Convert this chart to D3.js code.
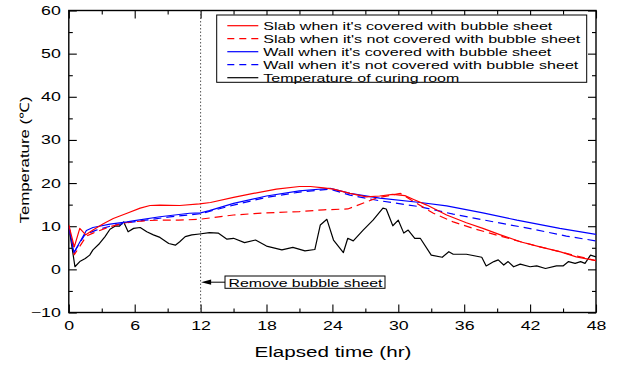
<!DOCTYPE html>
<html>
<head>
<meta charset="utf-8">
<script src="https://cdn.jsdelivr.net/npm/d3@7"></script>
<style>
  html, body { margin: 0; padding: 0; background: #fff; }
  svg { display: block; }
  text { font-family: "Liberation Sans", Arial, sans-serif; fill: #000; }
</style>
</head>
<body>
<svg id="chart" width="620" height="368"></svg>
<script>
// Axis ticks
const xTicks = [0, 6, 12, 18, 24, 30, 36, 42, 48];
const xMinorTicks = [3, 9, 15, 21, 27, 33, 39, 45];
const yTicks = [-10, 0, 10, 20, 30, 40, 50, 60];
const yMinorTicks = [-5, 5, 15, 25, 35, 45, 55];

// Series: [elapsed hours, temperature °C]
const slabCovered = [
  [0, 10.3], [0.5, 5.2], [1.0, 9.5], [1.4, 8.4], [1.55, 8.0], [2.2, 9.1], [3.1, 10.5],
  [4.05, 11.8], [5.3, 13.0], [6.5, 14.2], [7.4, 14.8], [8.3, 14.9], [10.1, 14.8],
  [11.9, 15.2], [12.9, 15.5], [15.0, 16.7], [16.8, 17.6], [18.9, 18.6], [21.0, 19.2],
  [22.0, 19.2], [23.2, 18.9], [24.1, 18.6], [25.6, 17.6], [27.1, 16.8], [28.3, 17.0],
  [29.5, 17.4], [30.6, 17.1], [31.4, 16.2], [32.6, 14.9], [34.4, 12.6], [36.2, 10.8],
  [37.7, 9.5], [39.3, 8.0], [41.1, 6.4], [42.9, 5.2], [44.7, 4.1], [46.2, 2.9], [48, 2.0]
];
const slabUncovered = [
  [0, 10.0], [0.5, 3.4], [1.6, 7.7], [2.2, 8.4], [3.75, 9.9], [5.3, 10.9], [7.1, 11.3],
  [8.3, 11.4], [10.0, 11.4], [11.9, 11.6], [15.0, 12.6], [18.0, 13.1], [21.0, 13.4],
  [23.2, 13.8], [25.4, 14.0], [28.0, 16.5], [30.2, 17.6], [31.4, 15.7], [33.2, 13.0],
  [35.0, 11.0], [36.8, 9.5], [39.3, 7.7], [42.3, 5.6], [45.3, 3.7], [48, 2.0]
];
const wallCovered = [
  [0, 9.9], [0.47, 3.9], [1.2, 7.2], [1.6, 9.0], [2.2, 9.7], [3.75, 10.5], [5.3, 11.0],
  [6.0, 11.3], [8.3, 12.2], [11.0, 13.0], [12.0, 13.1], [12.8, 13.6], [15.0, 15.3],
  [18.0, 17.0], [21.0, 18.2], [23.8, 18.8], [25.6, 17.6], [28.3, 16.5], [32.0, 15.5],
  [34.4, 14.7], [37.7, 13.1], [40.8, 11.4], [44.7, 9.5], [48, 8.1]
];
const wallUncovered = [
  [0, 9.9], [0.5, 4.0], [1.45, 8.0], [2.5, 9.1], [3.75, 10.0], [5.3, 10.8], [7.0, 11.4],
  [9.0, 12.1], [12.0, 12.9], [15.0, 14.9], [18.0, 16.7], [21.0, 17.9], [23.8, 18.6],
  [25.6, 17.2], [28.3, 15.9], [32.0, 14.5], [35.0, 12.8], [38.7, 11.0], [42.3, 9.3],
  [45.3, 7.7], [48, 6.6]
];
const curingRoom = [
  [0, 10.0], [0.56, 0.6], [1.0, 1.8], [1.5, 2.5], [1.9, 3.3], [2.2, 4.5], [2.8, 6.0],
  [3.3, 7.6], [3.75, 9.3], [4.2, 10.0], [4.6, 10.0], [5.0, 11.0], [5.4, 8.7], [5.9, 9.5],
  [6.5, 9.7], [7.1, 8.7], [7.7, 8.0], [8.3, 7.4], [9.1, 6.0], [9.7, 5.6], [10.1, 6.4],
  [10.6, 7.6], [11.2, 8.0], [11.9, 8.2], [12.8, 8.5], [13.6, 8.4], [14.4, 7.0],
  [15.0, 7.2], [16.0, 6.2], [17.0, 6.8], [18.0, 5.4], [19.4, 4.5], [20.4, 5.1],
  [21.5, 4.3], [22.4, 4.6], [22.9, 10.3], [23.5, 11.6], [24.1, 6.8], [25.0, 3.9],
  [25.4, 7.2], [25.9, 6.6], [26.8, 9.1], [27.7, 11.4], [28.6, 14.2], [28.9, 14.0],
  [29.5, 10.1], [30.0, 11.4], [30.5, 8.4], [30.9, 9.1], [31.5, 7.2], [32.0, 7.2],
  [33.0, 3.3], [34.0, 2.8], [34.6, 4.1], [35.0, 3.5], [36.2, 3.5], [37.6, 2.8],
  [38.0, 0.8], [38.7, 1.8], [39.1, 2.2], [39.6, 1.0], [40.0, 1.8], [40.5, 0.6],
  [41.1, 1.2], [42.0, 0.6], [42.6, 0.8], [43.4, 0.2], [44.4, 0.8], [45.0, 0.8],
  [45.5, 1.8], [46.1, 1.4], [46.6, 1.8], [47.0, 1.4], [47.5, 3.3], [48, 2.9]
];

const seriesNames = [
  "Slab when it's covered with bubble sheet",
  "Slab when it's not covered with bubble sheet",
  "Wall when it's covered with bubble sheet",
  "Wall when it's not covered with bubble sheet",
  "Temperature of curing room"
];
const seriesData = [slabCovered, slabUncovered, wallCovered, wallUncovered, curingRoom];
const seriesColors = ["#ff0000", "#ff0000", "#0000ff", "#0000ff", "#000000"];
const seriesDashes = [null, "8,5", null, "8,5", null];
const legendWidths = [289, 317, 288, 315, 196];

const removeHour = 12;
const removeLabel = "Remove bubble sheet";

// Plot geometry
const plot = { left: 68.8, right: 596, top: 10.5, bottom: 312.5 };
const textStretch = 1.42;

const svg = d3.select("#chart");
const x = d3.scaleLinear().domain([0, 48]).range([plot.left, plot.right]);
const y = d3.scaleLinear().domain([-10, 60]).range([plot.bottom, plot.top]);

function stretchText(sel) {
  sel.each(function () {
    const t = d3.select(this);
    const xv = +t.attr("x") || 0;
    t.attr("x", xv / textStretch).attr("transform", `scale(${textStretch},1)`);
  });
}

function styleAxis(g) {
  g.select(".domain").remove();
  g.selectAll("line").attr("stroke", "#000").attr("stroke-width", 1.1);
}

// Minor ticks
svg.append("g").attr("transform", `translate(0,${plot.bottom})`)
  .call(d3.axisBottom(x).tickValues(xMinorTicks).tickSize(-4).tickSizeOuter(0).tickFormat(""))
  .call(styleAxis);
svg.append("g").attr("transform", `translate(0,${plot.top})`)
  .call(d3.axisTop(x).tickValues(xMinorTicks).tickSize(-4).tickSizeOuter(0).tickFormat(""))
  .call(styleAxis);
svg.append("g").attr("transform", `translate(${plot.left},0)`)
  .call(d3.axisLeft(y).tickValues(yMinorTicks).tickSize(-4).tickSizeOuter(0).tickFormat(""))
  .call(styleAxis);
svg.append("g").attr("transform", `translate(${plot.right},0)`)
  .call(d3.axisRight(y).tickValues(yMinorTicks).tickSize(-4).tickSizeOuter(0).tickFormat(""))
  .call(styleAxis);

// Major ticks with labels on bottom and left
const xAxisG = svg.append("g").attr("transform", `translate(0,${plot.bottom})`)
  .call(d3.axisBottom(x).tickValues(xTicks).tickSize(-8).tickSizeOuter(0).tickPadding(9).tickFormat(d3.format("d")))
  .call(styleAxis);
xAxisG.selectAll("text").attr("font-size", 12.5).attr("font-family", null);
stretchText(xAxisG.selectAll("text"));

const yAxisG = svg.append("g").attr("transform", `translate(${plot.left},0)`)
  .call(d3.axisLeft(y).tickValues(yTicks).tickSize(-8).tickSizeOuter(0).tickPadding(8).tickFormat(d3.format("d")))
  .call(styleAxis);
yAxisG.selectAll("text").attr("font-size", 12.5).attr("font-family", null);
stretchText(yAxisG.selectAll("text"));

svg.append("g").attr("transform", `translate(0,${plot.top})`)
  .call(d3.axisTop(x).tickValues(xTicks).tickSize(-8).tickSizeOuter(0).tickFormat(""))
  .call(styleAxis);
svg.append("g").attr("transform", `translate(${plot.right},0)`)
  .call(d3.axisRight(y).tickValues(yTicks).tickSize(-8).tickSizeOuter(0).tickFormat(""))
  .call(styleAxis);

// Frame
svg.append("rect")
  .attr("x", plot.left).attr("y", plot.top)
  .attr("width", plot.right - plot.left).attr("height", plot.bottom - plot.top)
  .attr("fill", "none").attr("stroke", "#000").attr("stroke-width", 1.4);

// Axis titles
svg.append("text")
  .attr("x", (plot.left + plot.right) / 2 + 0.5).attr("y", 357)
  .attr("text-anchor", "middle").attr("font-size", 15.5)
  .attr("textLength", 157).attr("lengthAdjust", "spacingAndGlyphs")
  .text("Elapsed time (hr)");

svg.append("text")
  .attr("transform", "translate(29,160) rotate(-90)")
  .attr("text-anchor", "middle").attr("font-size", 13)
  .attr("textLength", 127).attr("lengthAdjust", "spacingAndGlyphs")
  .text("Temperature (\u2103)");

// Clip for data lines
svg.append("clipPath").attr("id", "plotClip")
  .append("rect").attr("x", plot.left).attr("y", plot.top)
  .attr("width", plot.right - plot.left).attr("height", plot.bottom - plot.top);

// Vertical marker at bubble-sheet removal
svg.append("line")
  .attr("x1", x(removeHour)).attr("x2", x(removeHour))
  .attr("y1", plot.top).attr("y2", plot.bottom)
  .attr("stroke", "#555").attr("stroke-width", 1).attr("stroke-dasharray", "1.5,2");

const line = d3.line().x(d => x(d[0])).y(d => y(d[1]));
const drawOrder = [4, 3, 1, 2, 0];
const linesG = svg.append("g").attr("clip-path", "url(#plotClip)");
drawOrder.forEach(i => {
  linesG.append("path")
    .datum(seriesData[i])
    .attr("d", line)
    .attr("fill", "none")
    .attr("stroke", seriesColors[i])
    .attr("stroke-width", 1.2)
    .attr("stroke-linejoin", "round")
    .attr("stroke-dasharray", seriesDashes[i]);
});

// Legend
const legend = { x0: 216.7, y0: 15, x1: 586.7, y1: 82.3 };
const legendG = svg.append("g");
legendG.append("rect")
  .attr("x", legend.x0).attr("y", legend.y0)
  .attr("width", legend.x1 - legend.x0).attr("height", legend.y1 - legend.y0)
  .attr("fill", "#fff").attr("stroke", "#000").attr("stroke-width", 1);
seriesNames.forEach((name, i) => {
  const cy = 25.7 + i * 13;
  legendG.append("line")
    .attr("x1", 227.3).attr("x2", 258.3).attr("y1", cy).attr("y2", cy)
    .attr("stroke", seriesColors[i]).attr("stroke-width", 1.2)
    .attr("stroke-dasharray", seriesDashes[i] ? "7,5" : null);
  legendG.append("text")
    .attr("x", 263.3).attr("y", cy + 4.2)
    .attr("font-size", 11.3)
    .attr("textLength", legendWidths[i]).attr("lengthAdjust", "spacingAndGlyphs")
    .text(name);
});

// Annotation with arrow
const noteY = 282.2;
svg.append("rect")
  .attr("x", 225).attr("y", 276).attr("width", 160).attr("height", 12.3)
  .attr("fill", "#fff").attr("stroke", "#000").attr("stroke-width", 1);
svg.append("text")
  .attr("x", 228.5).attr("y", 286.5).attr("font-size", 11.3)
  .attr("textLength", 154).attr("lengthAdjust", "spacingAndGlyphs")
  .text(removeLabel);
svg.append("line")
  .attr("x1", 225).attr("x2", x(removeHour) + 8).attr("y1", noteY).attr("y2", noteY)
  .attr("stroke", "#000").attr("stroke-width", 1);
const ax = x(removeHour) + 0.5;
svg.append("path")
  .attr("d", `M${ax},${noteY} L${ax + 10},${noteY - 2.6} L${ax + 10},${noteY + 2.6} Z`)
  .attr("fill", "#000");
</script>
</body>
</html>
